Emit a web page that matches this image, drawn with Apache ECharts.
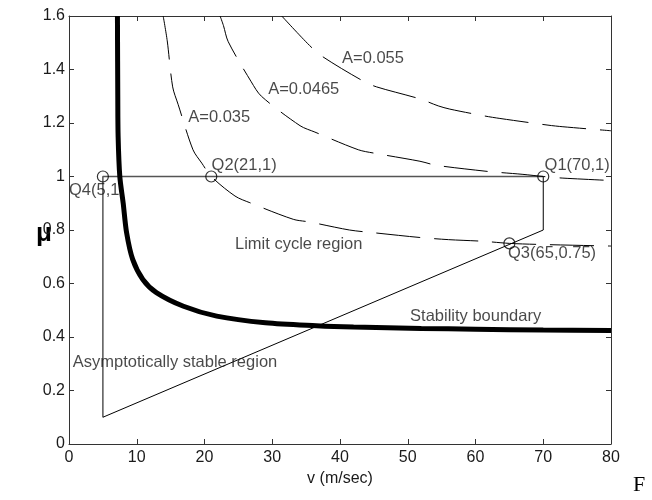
<!DOCTYPE html>
<html>
<head>
<meta charset="utf-8">
<script src="https://cdn.jsdelivr.net/npm/echarts@6/dist/echarts.min.js"></script>
<style>html,body{margin:0;padding:0;background:#fff}#c{width:652px;height:500px}</style>
</head>
<body>
<div id="c"></div>
<script>
// ---- data ----
const xTicks = [0, 10, 20, 30, 40, 50, 60, 70, 80];
const yTicks = [0, 0.2, 0.4, 0.6, 0.8, 1, 1.2, 1.4, 1.6];
const stabilityBoundary = [[7.15,1.6],[7.2,1.3],[7.25,1.15],[7.5,1.0],[8.0,0.9],[8.5,0.79],[9.4,0.69],[10.9,0.615],[12.9,0.566],[16.9,0.515],[21.8,0.478],[29,0.453],[36.5,0.442],[42,0.437],[52,0.432],[60,0.429],[70,0.426],[80,0.424]];
const curveA035 = [[13.9,1.6],[14.5,1.507],[15.3,1.335],[16.1,1.27],[18.3,1.1],[19.6,1.05],[21,1.0],[24.5,0.927],[26.7,0.902],[33.1,0.84],[35.5,0.83],[41.4,0.80],[44.9,0.79],[51.8,0.772],[56,0.764],[61,0.758],[65,0.75],[69.5,0.746],[80,0.74]];
const curveA0465 = [[22.3,1.6],[22.8,1.564],[23.5,1.504],[26.9,1.354],[28.4,1.3],[34.1,1.19],[36.3,1.166],[42.7,1.1],[45.1,1.087],[51.8,1.057],[54.2,1.042],[61.4,1.02],[63.6,1.015],[67,1.008],[70,1.0],[72.9,0.994],[80,0.985]];
const curveA055 = [[31.4,1.6],[35.5,1.49],[37.5,1.447],[43.4,1.357],[45.4,1.335],[51.8,1.29],[54.5,1.264],[56.2,1.252],[61.4,1.226],[63.6,1.217],[70.7,1.192],[72.9,1.186],[80,1.171]];
const pathUpper = [[5,0.1],[5,1],[70,1]];
const pathLower = [[70,1],[70,0.8],[5,0.1]];
const operatingPoints = [[70,1],[21,1],[65,0.75],[5,1]];
const annotations = [
  ["A=0.055", 40.3, 1.44, "left"],
  ["A=0.0465", 29.4, 1.325, "left"],
  ["A=0.035", 17.6, 1.221, "left"],
  ["Q2(21,1)", 21.05, 1.043, "left"],
  ["Q1(70,1)", 70.2, 1.043, "left"],
  ["Q3(65,0.75)", 64.8, 0.712, "left"],
  ["Q4(5,1", 0.0, 0.946, "left"],
  ["Limit cycle region", 24.5, 0.746, "left"],
  ["Stability boundary", 69.7, 0.477, "right"],
  ["Asymptotically stable region", 0.55, 0.303, "left"]
];

const FONT = 'Liberation Sans, Arial, Helvetica, sans-serif';
const chart = echarts.init(document.getElementById('c'), null, {renderer:'canvas'});

const axisCommon = {
  type: 'value',
  axisLine: {show: true, onZero: false, lineStyle: {color: '#333', width: 1}},
  axisTick: {show: true, inside: true, length: 5, lineStyle: {color: '#333', width: 1}},
  splitLine: {show: false}
};

const dashed = {color: '#000', width: 1, type: [44, 14]};

chart.setOption({
  animation: false,
  backgroundColor: '#fff',
  grid: {left: 69, right: 41, top: 16, bottom: 56},
  xAxis: [
    Object.assign({}, axisCommon, {
      min: xTicks[0], max: xTicks[xTicks.length-1], interval: xTicks[1]-xTicks[0],
      position: 'bottom',
      axisLabel: {color: '#1a1a1a', fontSize: 16, fontFamily: FONT, margin: 6},
      name: 'v (m/sec)', nameLocation: 'middle', nameGap: 27,
      nameTextStyle: {color: '#1a1a1a', fontSize: 16, fontFamily: FONT}
    }),
    Object.assign({}, axisCommon, {
      min: xTicks[0], max: xTicks[xTicks.length-1], interval: xTicks[1]-xTicks[0],
      position: 'top', axisLabel: {show: false}
    })
  ],
  yAxis: [
    Object.assign({}, axisCommon, {
      min: yTicks[0], max: yTicks[yTicks.length-1], interval: 0.2,
      position: 'left',
      axisLabel: {color: '#1a1a1a', fontSize: 16, fontFamily: FONT, margin: 4}
    }),
    Object.assign({}, axisCommon, {
      min: yTicks[0], max: yTicks[yTicks.length-1], interval: 0.2,
      position: 'right', axisLabel: {show: false}
    })
  ],
  graphic: [
    {type: 'text', left: 36, top: 221, style: {text: 'μ', fontSize: 26, fontWeight: 'bold', fontFamily: FONT, fill: '#000'}},
    {type: 'text', left: 633, top: 474, style: {text: 'F', fontSize: 22, fontFamily: 'Liberation Serif, Times New Roman, serif', fill: '#000'}}
  ],
  series: [
    {type: 'line', data: pathUpper, showSymbol: false, lineStyle: {color: '#555', width: 1.5}, z: 2},
    {type: 'line', data: pathLower, showSymbol: false, lineStyle: {color: '#000', width: 1}, z: 2},
    {type: 'line', data: curveA035, showSymbol: false, smooth: 0.3, lineStyle: dashed, z: 2},
    {type: 'line', data: curveA0465, showSymbol: false, smooth: 0.3, lineStyle: dashed, z: 2},
    {type: 'line', data: curveA055, showSymbol: false, smooth: 0.3, lineStyle: dashed, z: 2},
    {type: 'line', data: stabilityBoundary, showSymbol: false, smooth: 0.3, lineStyle: {color: '#000', width: 5}, z: 3},
    {type: 'scatter', data: operatingPoints, symbol: 'circle', symbolSize: 11,
     itemStyle: {color: 'rgba(0,0,0,0)', borderColor: '#000', borderWidth: 1.2}, z: 4},
    {type: 'scatter', symbolSize: 0, z: 5,
     data: annotations.map(a => ({
       name: a[0], value: [a[1], a[2]],
       label: {show: true, formatter: a[0], position: a[3] === 'right' ? 'left' : 'right', distance: 0,
               color: '#1a1a1a', fontSize: 16.5, fontFamily: FONT}
     }))}
  ]
});
</script>
</body>
</html>
